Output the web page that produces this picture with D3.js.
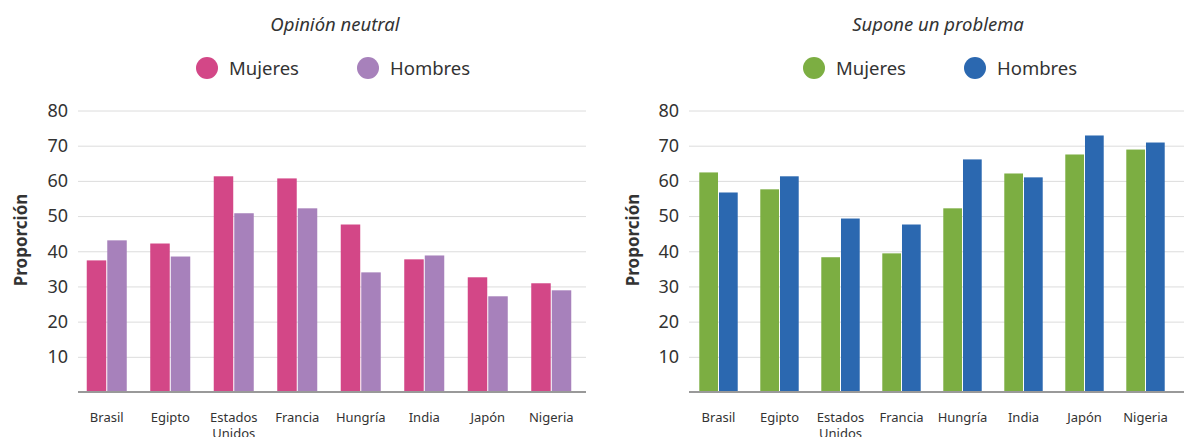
<!DOCTYPE html>
<html>
<head>
<meta charset="utf-8">
<script src="https://cdn.jsdelivr.net/npm/d3@7"></script>
<style>
  body { margin: 0; background: #fff; }
  svg { display: block; font-family: "Noto Sans", "Open Sans", sans-serif; }
</style>
</head>
<body>
<svg id="chart" width="1184" height="437"></svg>
<script>
const countries = ["Brasil", "Egipto", "Estados Unidos", "Francia", "Hungría", "India", "Japón", "Nigeria"];
const seriesNames = ["Mujeres", "Hombres"];
const yTicks = [10, 20, 30, 40, 50, 60, 70, 80];

// Opinión neutral
const neutralMujeres = [37.4, 42.2, 61.3, 60.7, 47.6, 37.7, 32.6, 30.9];
const neutralHombres = [43.1, 38.5, 50.8, 52.2, 34.0, 38.8, 27.2, 28.9];

// Supone un problema
const problemaMujeres = [62.4, 57.6, 38.3, 39.4, 52.2, 62.1, 67.5, 68.9];
const problemaHombres = [56.7, 61.3, 49.3, 47.6, 66.1, 61.0, 72.9, 70.9];

const panels = [
    {
        title: "Opinión neutral",
        values: [neutralMujeres, neutralHombres],
        colors: ["#d34787", "#a781bb"],
        grid: [78, 586],
        bands: [75, 583],
        titleX: 335,
        legendX: [207, 368],
        axisLabelX: 21
    },
    {
        title: "Supone un problema",
        values: [problemaMujeres, problemaHombres],
        colors: ["#7cae42", "#2b68b0"],
        grid: [689, 1184],
        bands: [688, 1176],
        titleX: 938,
        legendX: [814, 975],
        axisLabelX: 633
    }
];

const svg = d3.select("#chart");
const y = d3.scaleLinear().domain([0, 80]).range([392, 110.5]);

panels.forEach(p => {
    const g = svg.append("g");

    // title + legend
    g.append("text")
        .attr("x", p.titleX)
        .attr("y", 31)
        .attr("text-anchor", "middle")
        .attr("font-size", 18.5)
        .attr("font-style", "italic")
        .attr("fill", "#333")
        .text(p.title);

    seriesNames.forEach((name, i) => {
        g.append("circle")
            .attr("cx", p.legendX[i])
            .attr("cy", 68)
            .attr("r", 11)
            .attr("fill", p.colors[i]);
        g.append("text")
            .attr("x", p.legendX[i] + 22)
            .attr("y", 74.5)
            .attr("font-size", 18.5)
            .attr("fill", "#333")
            .text(name);
    });

    // y axis with gridlines
    const yAxis = g.append("g")
        .attr("transform", `translate(${p.grid[0]},0)`)
        .call(d3.axisLeft(y).tickValues(yTicks).tickSize(-(p.grid[1] - p.grid[0])).tickPadding(10));
    yAxis.select(".domain").remove();
    yAxis.selectAll(".tick line").attr("stroke", "#dcdcdc");
    yAxis.selectAll(".tick text")
        .attr("font-size", 18)
        .attr("fill", "#333")
        .attr("font-family", "Noto Sans, Open Sans, sans-serif");

    g.append("text")
        .attr("transform", `translate(${p.axisLabelX},240) rotate(-90)`)
        .attr("text-anchor", "middle")
        .attr("dy", "0.35em")
        .attr("font-size", 17)
        .attr("font-weight", "bold")
        .attr("fill", "#333")
        .text("Proporción");

    // bars
    const x0 = d3.scaleBand().domain(countries).range(p.bands).paddingInner(0.37).paddingOuter(0.185);
    const x1 = d3.scaleBand().domain(seriesNames).range([0, x0.bandwidth()]).paddingInner(0.05);

    const groups = g.append("g")
        .selectAll("g")
        .data(countries)
        .join("g")
        .attr("transform", d => `translate(${x0(d)},0)`);

    groups.selectAll("rect")
        .data((d, ci) => seriesNames.map((s, si) => ({ s, si, v: p.values[si][ci] })))
        .join("rect")
        .attr("x", d => x1(d.s))
        .attr("width", x1.bandwidth())
        .attr("y", d => y(d.v))
        .attr("height", d => y(0) - y(d.v))
        .attr("fill", d => p.colors[d.si]);

    // baseline
    g.append("line")
        .attr("x1", p.grid[0])
        .attr("x2", p.grid[1])
        .attr("y1", y(0))
        .attr("y2", y(0))
        .attr("stroke", "#999")
        .attr("stroke-width", 2);

    // category labels
    const xAxis = g.append("g")
        .attr("transform", `translate(0,${y(0)})`)
        .call(d3.axisBottom(x0).tickSize(0).tickFormat(""));
    xAxis.select(".domain").remove();
    xAxis.selectAll(".tick").append("text")
        .attr("y", 30)
        .attr("text-anchor", "middle")
        .attr("font-size", 13)
        .attr("fill", "#333")
        .attr("font-family", "Noto Sans, Open Sans, sans-serif")
        .each(function (d) {
            const words = d.split(" ");
            const t = d3.select(this);
            if (words.length > 1) {
                t.append("tspan").attr("x", 0).text(words[0]);
                t.append("tspan").attr("x", 0).attr("dy", 16).text(words.slice(1).join(" "));
            } else {
                t.text(d);
            }
        });
});
</script>
</body>
</html>
